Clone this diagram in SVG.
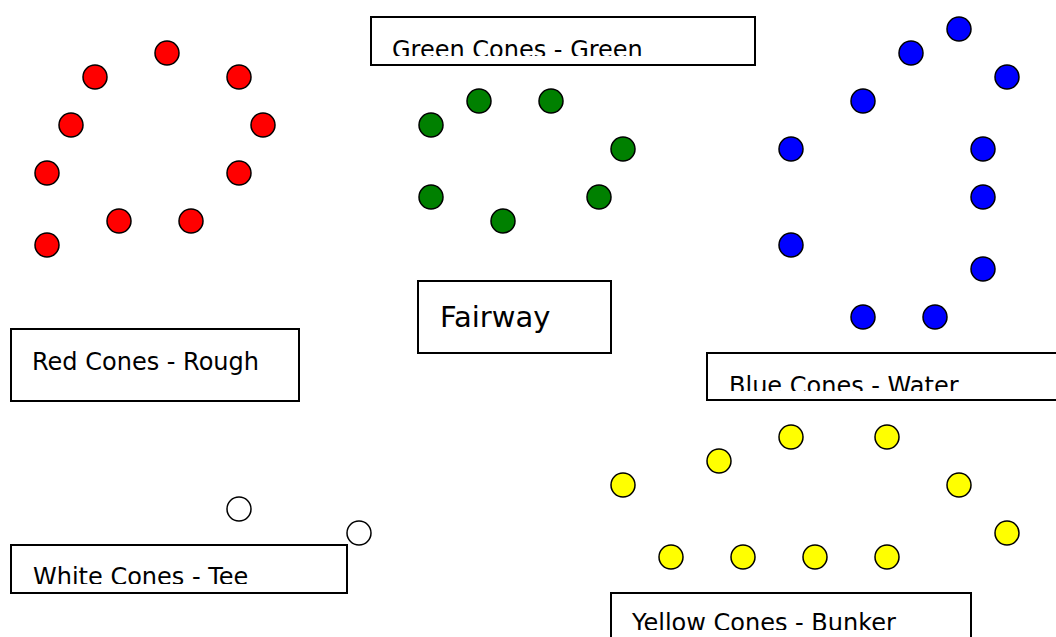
<svg xmlns="http://www.w3.org/2000/svg" width="1056" height="637" viewBox="0 0 1056 637">
<style>
.box{fill:#fff;stroke:#000;stroke-width:2}
.c{stroke:#000;stroke-width:1.5}
.r{fill:#ff0000}.g{fill:#008000}.b{fill:#0000ff}.y{fill:#ffff00}.w{fill:#fff}
.t{font-family:"DejaVu Sans",sans-serif;font-size:24px;fill:#000}
</style>
<defs>
<clipPath id="cg"><rect x="372" y="18" width="382" height="38"/></clipPath>
<clipPath id="cb"><rect x="708" y="354" width="348" height="37"/></clipPath>
<clipPath id="cw"><rect x="12" y="546" width="334" height="38"/></clipPath>
<clipPath id="cy"><rect x="612" y="594" width="358" height="36"/></clipPath>
</defs>
<rect width="1056" height="637" fill="#fff"/>
<g id="red-cones">
<circle class="c r" cx="167" cy="53" r="12"/><circle class="c r" cx="95" cy="77" r="12"/><circle class="c r" cx="239" cy="77" r="12"/>
<circle class="c r" cx="71" cy="125" r="12"/><circle class="c r" cx="263" cy="125" r="12"/><circle class="c r" cx="47" cy="173" r="12"/>
<circle class="c r" cx="239" cy="173" r="12"/><circle class="c r" cx="119" cy="221" r="12"/><circle class="c r" cx="191" cy="221" r="12"/>
<circle class="c r" cx="47" cy="245" r="12"/>
</g>
<g id="green-cones">
<circle class="c g" cx="479" cy="101" r="12"/><circle class="c g" cx="551" cy="101" r="12"/><circle class="c g" cx="431" cy="125" r="12"/>
<circle class="c g" cx="623" cy="149" r="12"/><circle class="c g" cx="431" cy="197" r="12"/><circle class="c g" cx="599" cy="197" r="12"/>
<circle class="c g" cx="503" cy="221" r="12"/>
</g>
<g id="blue-cones">
<circle class="c b" cx="959" cy="29" r="12"/><circle class="c b" cx="911" cy="53" r="12"/><circle class="c b" cx="1007" cy="77" r="12"/>
<circle class="c b" cx="863" cy="101" r="12"/><circle class="c b" cx="791" cy="149" r="12"/><circle class="c b" cx="983" cy="149" r="12"/>
<circle class="c b" cx="983" cy="197" r="12"/><circle class="c b" cx="791" cy="245" r="12"/><circle class="c b" cx="983" cy="269" r="12"/>
<circle class="c b" cx="863" cy="317" r="12"/><circle class="c b" cx="935" cy="317" r="12"/>
</g>
<g id="yellow-cones">
<circle class="c y" cx="791" cy="437" r="12"/><circle class="c y" cx="887" cy="437" r="12"/><circle class="c y" cx="719" cy="461" r="12"/>
<circle class="c y" cx="623" cy="485" r="12"/><circle class="c y" cx="959" cy="485" r="12"/><circle class="c y" cx="1007" cy="533" r="12"/>
<circle class="c y" cx="671" cy="557" r="12"/><circle class="c y" cx="743" cy="557" r="12"/><circle class="c y" cx="815" cy="557" r="12"/>
<circle class="c y" cx="887" cy="557" r="12"/>
</g>
<g id="white-cones">
<circle class="c w" cx="239" cy="509" r="12"/><circle class="c w" cx="359" cy="533" r="12"/>
</g>
<g id="green-label"><rect class="box" x="371" y="17" width="384" height="48"/><text class="t" x="392" y="58" clip-path="url(#cg)">Green Cones - Green</text></g>
<g id="fairway-label"><rect class="box" x="418" y="281" width="193" height="72"/><text class="t" x="440" y="327" style="font-size:29px">Fairway</text></g>
<g id="red-label"><rect class="box" x="11" y="329" width="288" height="72"/><text class="t" x="32" y="370">Red Cones - Rough</text></g>
<g id="blue-label"><rect class="box" x="707" y="353" width="352" height="47"/><text class="t" x="729" y="394" clip-path="url(#cb)">Blue Cones - Water</text></g>
<g id="white-label"><rect class="box" x="11" y="545" width="336" height="48"/><text class="t" x="33" y="585" clip-path="url(#cw)">White Cones - Tee</text></g>
<g id="yellow-label"><rect class="box" x="611" y="593" width="360" height="50"/><text class="t" x="632" y="631" clip-path="url(#cy)">Yellow Cones - Bunker</text></g>
<g id="connectors"/>
</svg>
